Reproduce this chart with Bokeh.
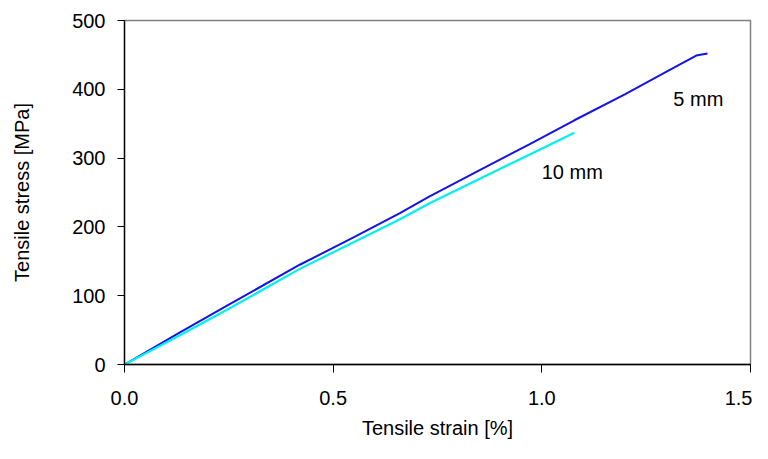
from bokeh.plotting import figure
from bokeh.models import Range1d, FixedTicker, Label
from bokeh.embed import file_html
from bokeh.resources import INLINE

# Data
strain_5mm = [0, 0.134, 0.25, 0.42, 0.55, 0.66, 0.73, 0.85, 0.97, 1.078, 1.2, 1.3, 1.37, 1.397]
stress_5mm = [0, 47, 87, 145, 185, 220, 244, 282, 320, 355, 393, 426, 449, 452]

strain_10mm = [0, 0.134, 0.25, 0.42, 0.66, 0.73, 0.97, 1.078]
stress_10mm = [0, 43, 81, 139, 211, 234, 305, 337]

x_ticks = [0.0, 0.5, 1.0, 1.5]
y_ticks = [0, 100, 200, 300, 400, 500]

labels = ["5 mm", "10 mm"]
label_x = [1.375, 1.073]
label_y = [386, 280]

x_title = "Tensile strain [%]"
y_title = "Tensile stress [MPa]"

FONT = "Liberation Sans"
FS = "20px"

p = figure(width=752, height=443, output_backend="svg", toolbar_location=None,
           x_range=Range1d(0, 1.5), y_range=Range1d(0, 500),
           min_border_left=124, min_border_right=2, min_border_top=20, min_border_bottom=79)

p.xgrid.visible = False
p.ygrid.visible = False
p.outline_line_color = "#808080"
p.outline_line_width = 1.5
p.background_fill_color = "white"
p.border_fill_color = "white"

p.line(strain_5mm, stress_5mm, line_color="#1414e6", line_width=2)
p.line(strain_10mm, stress_10mm, line_color="#00f0f0", line_width=2.2)

for t, lx, ly in zip(labels, label_x, label_y):
    p.add_layout(Label(x=lx, y=ly, text=t, text_align="center", text_baseline="middle",
                       text_font=FONT, text_font_size=FS, text_color="black"))

for ax, ticks in ((p.xaxis[0], x_ticks), (p.yaxis[0], y_ticks)):
    ax.ticker = FixedTicker(ticks=ticks)
    ax.minor_tick_line_color = None
    ax.major_tick_in = 0
    ax.axis_line_color = "black"
    ax.major_tick_line_color = "black"
    ax.axis_line_width = 1.3
    ax.major_label_text_font = FONT
    ax.major_label_text_font_size = FS
    ax.major_label_text_color = "black"
    ax.axis_label_text_font = FONT
    ax.axis_label_text_font_size = FS
    ax.axis_label_text_font_style = "normal"
    ax.axis_label_text_color = "black"

p.xaxis[0].major_tick_out = 8
p.xaxis[0].major_label_standoff = 18
p.xaxis[0].axis_label = x_title
p.xaxis[0].axis_label_standoff = 9
p.xaxis[0].major_label_overrides = {0.0: "0.0", 0.5: "0.5", 1.0: "1.0", 1.5: "1.5"}

p.yaxis[0].major_tick_out = 7
p.yaxis[0].major_label_standoff = 12
p.yaxis[0].axis_label = y_title
p.yaxis[0].axis_label_standoff = 36

open("out.html", "w").write(file_html(p, INLINE))
